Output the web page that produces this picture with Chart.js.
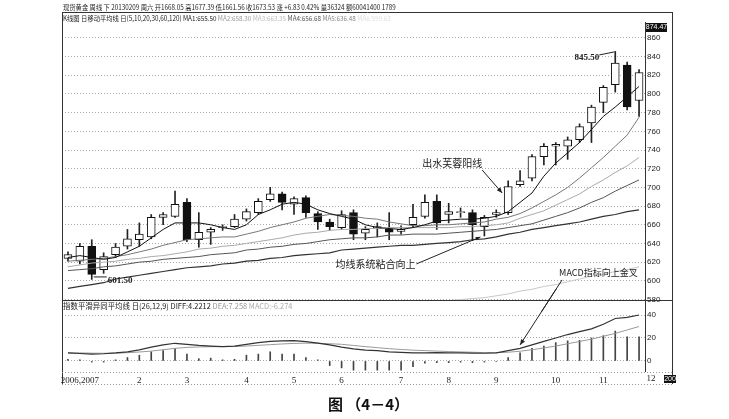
<!DOCTYPE html>
<html>
<head>
<meta charset="utf-8">
<script src="https://cdn.jsdelivr.net/npm/chart.js@4.4.1/dist/chart.umd.min.js"></script>
<style>
  body { margin: 0; background: #fff; }
  #wrap { position: relative; width: 729px; height: 419px; overflow: hidden; background: #fff; }
  #priceWrap { position: absolute; left: 0; top: 0; }
  #macdWrap { position: absolute; left: 0; top: 288px; }
  .hd { position: absolute; white-space: nowrap; font-family: "Noto Sans CJK SC", sans-serif; font-size: 7px; color: #222; line-height: 1; z-index: 3; transform-origin: 0 0; transform: scaleX(0.9); }
  .hd.m { font-size: 8px; transform: scaleX(0.93); }
  .caption { position: absolute; left: 4px; width: 729px; top: 393px; text-align: center; font: bold 15px "Noto Sans CJK SC", sans-serif; color: #111; z-index: 3; }
</style>
</head>
<body>
<div id="wrap">
  <div id="priceWrap"><canvas id="priceChart" width="729" height="312"></canvas></div>
  <div id="macdWrap"><canvas id="macdChart" width="729" height="131"></canvas></div>
  <div class="hd" style="left:63px;top:4px">现货黄金 周线 下 20130209 周六 开1668.05 高1677.39 低1661.56 收1673.53 涨 +6.83 0.42% 量36324 额60041400 1789</div>
  <div class="hd" style="left:63px;top:15px">K线图 日移动平均线 日(5,10,20,30,60,120) MA1:655.50 <span style="color:#999">MA2:658.30</span> <span style="color:#bbb">MA3:663.35</span> <span style="color:#555">MA4:656.68</span> <span style="color:#888">MA5:636.48</span> <span style="color:#ddd">MA6:599.63</span></div>
  <div class="hd m" style="left:63px;top:302px">指数平滑异同平均线 日(26,12,9) DIFF:4.2212 <span style="color:#999">DEA:7.258</span> <span style="color:#aaa">MACD:-6.274</span></div>
  <div class="caption">图 （4－4）</div>
</div>
<script>
// weekly candles, late 2006 - end of 2007
const dateLabels = ['', '2006,2007', '', '', '', '', '2', '', '', '', '3', '', '', '', '', '4', '', '', '', '5',
  '', '', '', '6', '', '', '', '', '7', '', '', '', '8', '', '', '', '9', '', '', '', '', '10', '', '', '', '11', '', '', ''];
const lastLabel = '12';

const opens  = [624, 621, 637, 612, 628, 637, 644, 647, 668, 669, 684, 644, 652, 657, 658, 666, 673, 687, 693, 682,
  689, 672, 663, 657, 673, 651, 656, 655, 653, 660, 669, 685, 671, 673, 673, 658, 671, 673, 703, 710,
  733, 744, 744, 751, 769, 791, 810, 831, 793];
const highs  = [631, 640, 644, 630, 640, 655, 662, 671, 673, 696, 688, 673, 657, 660, 671, 677, 688, 700, 695, 690,
  691, 674, 666, 675, 676, 658, 662, 673, 659, 682, 692, 692, 683, 678, 676, 670, 676, 707, 718, 735,
  747, 748, 754, 768, 788, 809, 845.5, 834, 826];
const lows   = [621, 618, 601.5, 608, 625, 634, 637, 645, 660, 668, 642, 636, 639, 654, 657, 664, 671, 685, 676, 671,
  668, 655, 654, 655, 644, 644, 647, 644, 650, 658, 667, 655, 662, 668, 643, 648, 668, 671, 701, 707,
  724, 724, 730, 748, 748, 780, 802, 783, 776];
const closes = [628, 637, 607, 626, 636, 645, 650, 668, 671, 682, 644, 652, 655, 658, 666, 674, 685, 693, 684, 688,
  673, 663, 658, 671, 650, 655, 658, 652, 655, 668, 684, 662, 674, 674, 660, 668, 673, 701, 707, 733,
  744, 746, 751, 765, 786, 807, 833, 786, 823];

const ma5   = [625, 627, 625, 623, 625, 631, 637, 646, 655, 662, 662, 662, 660, 657, 655, 660, 671, 676, 682, 684,
  682, 676, 672, 669, 666, 660, 657, 656, 655, 657, 660, 664, 665, 666, 666, 667, 669, 674, 684, 694,
  712, 726, 737, 748, 762, 776, 786, 797, 808];
const ma10  = [621, 622, 623, 624, 626, 628, 631, 634, 638, 641, 644, 645, 646, 647, 647, 650, 653, 657, 660, 663,
  667, 669, 671, 670, 669, 667, 666, 663, 661, 659, 659, 660, 660, 661, 662, 663, 666, 668, 672, 678,
  685, 692, 700, 710, 721, 732, 744, 756, 775];
const ma20  = [615, 617, 619, 620, 621, 623, 624, 626, 627, 629, 631, 634, 635, 637, 638, 640, 642, 644, 646, 649,
  651, 652, 654, 655, 655, 656, 656, 657, 657, 657, 657, 657, 657, 658, 658, 659, 660, 662, 667, 671,
  675, 681, 687, 693, 701, 708, 716, 723, 732];
const ma30  = [611, 612, 613, 615, 616, 618, 620, 621, 623, 624, 625, 626, 628, 629, 630, 633, 634, 636, 637, 639,
  640, 642, 644, 645, 646, 646, 647, 649, 649, 650, 650, 650, 651, 652, 653, 654, 655, 657, 659, 661,
  665, 669, 673, 678, 684, 689, 696, 702, 708];
const ma60  = [592, 594, 596, 598, 602, 604, 606, 608, 610, 612, 614, 615, 616, 618, 619, 621, 622, 624, 625, 627,
  628, 629, 630, 633, 634, 635, 636, 637, 638, 638, 639, 640, 641, 642, 644, 645, 647, 650, 652, 655,
  657, 659, 661, 663, 666, 669, 671, 674, 676];
const ma120 = [null, null, null, null, null, null, null, null, null, null, null, null, null, null, null, null, null, null, null, null,
  null, null, null, null, null, null, null, null, 572, 574, 576, 577, 579, 580, 581, 582, 584, 586, 589, 591,
  594, 596, 599, 602, 605, 607, 610, 612, 615];

const diffLine = [7, 6.5, 6, 6.3, 7, 8, 9.6, 12, 14, 15.4, 14.5, 13.5, 13, 12.5, 13, 14.5, 16, 17, 17.5, 17.7,
  16.8, 15.5, 14, 12, 10.5, 9.5, 9, 8, 7.5, 7, 7, 7.2, 7, 7, 6.8, 6.7, 7, 9, 11, 14,
  17, 20, 23, 25.5, 28, 32, 37, 38, 40];
const deaLine = [7, 7, 6.8, 6.7, 6.8, 7.2, 7.8, 8.6, 9.8, 11, 11.8, 12.2, 12.4, 12.5, 12.6, 13, 13.6, 14.2, 14.8, 15.3,
  15.5, 15.4, 15, 14.5, 13.5, 12.5, 11.6, 10.7, 10, 9.4, 9, 8.6, 8.2, 7.9, 7.6, 7.3, 7.2, 7.6, 8.5, 9.8,
  11.3, 13, 15, 17, 19, 21.5, 24, 27, 30];
const macdBars = [1.5, 1, -1, -1, 1, 3, 5, 8, 9, 10.7, 6, 2, 2.5, 1, 1.5, 5, 6, 8, 6, 6,
  3, 1, -4, -6, -8, -8, -8, -8, -8, -5, -2, -1.5, -1.5, -1, -1.5, -1, -0.5, 3, 7, 11,
  13, 16, 17.5, 18, 20, 22, 26, 21, 21];

const priceTicks = [580, 600, 620, 640, 660, 680, 700, 720, 740, 760, 780, 800, 820, 840, 860];
const macdTicks = [0, 20, 40];

const MACD_TOP = 288;

function arrowHead(ctx, fx, fy, tx, ty, size) {
  const ang = Math.atan2(ty - fy, tx - fx);
  ctx.beginPath();
  ctx.moveTo(tx, ty);
  ctx.lineTo(tx - size * Math.cos(ang - 0.4), ty - size * Math.sin(ang - 0.4));
  ctx.lineTo(tx - size * Math.cos(ang + 0.4), ty - size * Math.sin(ang + 0.4));
  ctx.closePath();
  ctx.fill();
}

function macdArrow(m) {
  const tip = { x: m.scales.x.getPixelForValue(38), y: MACD_TOP + m.scales.y.getPixelForValue(14) };
  return { tip, tail: { x: tip.x + 42, y: tip.y - 65 } };
}

const macdPanel = {
  id: 'macdPanel',
  afterDraw(chart) {
    const { ctx, chartArea: a, scales: { x, y } } = chart;
    ctx.save();
    ctx.strokeStyle = '#333';
    ctx.lineWidth = 1;
    ctx.beginPath();
    ctx.moveTo(62.5, 0); ctx.lineTo(62.5, 96);
    ctx.moveTo(Math.round(a.right) + 0.5, 0); ctx.lineTo(Math.round(a.right) + 0.5, a.bottom);
    ctx.moveTo(672.5, 0); ctx.lineTo(672.5, 96);
    ctx.stroke();
    ctx.strokeStyle = '#999';
    ctx.setLineDash([1, 2]);
    ctx.beginPath();
    ctx.moveTo(62, Math.round(a.bottom) + 0.5); ctx.lineTo(672, Math.round(a.bottom) + 0.5);
    ctx.moveTo(62, 96.5); ctx.lineTo(672, 96.5);
    ctx.stroke();
    ctx.setLineDash([]);

    // last month label past the plot edge
    ctx.fillStyle = '#222';
    ctx.font = '9px "Liberation Serif"';
    ctx.textAlign = 'center';
    ctx.textBaseline = 'middle';
    ctx.fillText(lastLabel, x.getPixelForValue(49), a.bottom + 7);

    // "200" box
    ctx.fillStyle = '#111';
    ctx.fillRect(664, 87, 12, 8);
    ctx.fillStyle = '#fff';
    ctx.font = '7px "Liberation Sans"';
    ctx.fillText('200', 670, 91.5);

    // arrow from the note into the golden cross
    const { tip, tail } = macdArrow(chart);
    ctx.strokeStyle = '#222';
    ctx.fillStyle = '#222';
    ctx.beginPath();
    ctx.moveTo(tail.x, tail.y - MACD_TOP);
    ctx.lineTo(tip.x, tip.y - MACD_TOP);
    ctx.stroke();
    arrowHead(ctx, tail.x, tail.y - MACD_TOP, tip.x, tip.y - MACD_TOP, 6);
    ctx.restore();
  }
};

const macdChart = new Chart(document.getElementById('macdChart'), {
  type: 'bar',
  data: {
    labels: dateLabels,
    datasets: [
      { type: 'line', data: diffLine, borderColor: '#333', borderWidth: 1.2, pointRadius: 0, order: 1 },
      { type: 'line', data: deaLine, borderColor: '#999', borderWidth: 1, pointRadius: 0, order: 1 },
      { data: macdBars, backgroundColor: '#444', barThickness: 1, grouped: false, order: 2 }
    ]
  },
  options: {
    responsive: false,
    animation: false,
    events: [],
    layout: { padding: { left: 62, right: 57, top: 13, bottom: 31 } },
    plugins: { legend: { display: false }, tooltip: { enabled: false } },
    scales: {
      x: {
        grid: { display: false, drawTicks: false },
        border: { display: false },
        ticks: { autoSkip: false, maxRotation: 0, padding: 3, color: '#222', font: { family: 'Liberation Serif', size: 9 } },
        afterFit: s => { s.height = 16; }
      },
      y: {
        position: 'right',
        min: -9.6,
        max: 52.2,
        afterBuildTicks: s => { s.ticks = macdTicks.map(v => ({ value: v })); },
        grid: { color: '#aaa', drawTicks: false },
        border: { display: false, dash: [1, 2] },
        ticks: { padding: 2, color: '#222', font: { family: 'Liberation Sans', size: 8 } },
        afterFit: s => { s.width = 27; }
      }
    }
  },
  plugins: [macdPanel]
});

const pricePanel = {
  id: 'pricePanel',
  afterDraw(chart) {
    const { ctx, chartArea: a, scales: { x, y } } = chart;
    ctx.save();
    ctx.strokeStyle = '#333';
    ctx.lineWidth = 1;
    ctx.beginPath();
    ctx.moveTo(62, 12.5); ctx.lineTo(673, 12.5);
    ctx.moveTo(62.5, 12); ctx.lineTo(62.5, 312);
    ctx.moveTo(Math.round(a.right) + 0.5, a.top); ctx.lineTo(Math.round(a.right) + 0.5, a.bottom);
    ctx.moveTo(672.5, 12); ctx.lineTo(672.5, 312);
    ctx.moveTo(62, 300.5); ctx.lineTo(673, 300.5);
    ctx.stroke();

    // last price tag
    ctx.fillStyle = '#111';
    ctx.fillRect(a.right + 1, 23, 21, 9);
    ctx.fillStyle = '#fff';
    ctx.font = '7px "Liberation Sans"';
    ctx.textAlign = 'center';
    ctx.textBaseline = 'middle';
    ctx.fillText('874.47', a.right + 11.5, 27.5);

    ctx.fillStyle = '#222';
    ctx.strokeStyle = '#222';

    // high label
    let px = x.getPixelForValue(46), py = y.getPixelForValue(845.5);
    ctx.beginPath(); ctx.moveTo(px - 16, py + 3.5); ctx.lineTo(px - 1, py + 0.5); ctx.stroke();
    ctx.font = 'bold 9px "Liberation Serif"';
    ctx.textAlign = 'right';
    ctx.fillText('845.50', px - 16, py + 6);

    // low label
    px = x.getPixelForValue(2); py = y.getPixelForValue(601.5);
    ctx.beginPath(); ctx.moveTo(px + 2, py - 2.5); ctx.lineTo(px + 15, py - 2.5); ctx.stroke();
    ctx.textAlign = 'left';
    ctx.fillText('601.50', px + 16, py + 1);

    ctx.font = '10px "Noto Sans CJK SC"';

    // breakout candle note
    let tip = { x: x.getPixelForValue(37) - 6, y: y.getPixelForValue(694) };
    let tail = { x: tip.x - 20, y: tip.y - 23 };
    ctx.beginPath(); ctx.moveTo(tail.x, tail.y); ctx.lineTo(tip.x, tip.y); ctx.stroke();
    arrowHead(ctx, tail.x, tail.y, tip.x, tip.y, 6);
    ctx.textAlign = 'right';
    ctx.fillText('出水芙蓉阳线', tail.x, tail.y - 7);

    // moving averages converge note
    tip = { x: x.getPixelForValue(35) - 4, y: y.getPixelForValue(647) };
    tail = { x: tip.x - 64, y: tip.y + 27 };
    ctx.beginPath(); ctx.moveTo(tail.x, tail.y); ctx.lineTo(tip.x, tip.y); ctx.stroke();
    arrowHead(ctx, tail.x, tail.y, tip.x, tip.y, 5);
    ctx.fillText('均线系统粘合向上', tail.x - 1, tail.y);

    // MACD note
    const mm = macdArrow(macdChart);
    ctx.beginPath(); ctx.moveTo(mm.tail.x, mm.tail.y); ctx.lineTo(mm.tip.x, mm.tip.y); ctx.stroke();
    ctx.textAlign = 'left';
    ctx.font = '9px "Noto Sans CJK SC"';
    ctx.fillText('MACD指标向上金叉', mm.tail.x - 3, mm.tail.y - 7);
    ctx.restore();
  }
};

new Chart(document.getElementById('priceChart'), {
  type: 'bar',
  data: {
    labels: dateLabels,
    datasets: [
      { type: 'line', data: ma5, borderColor: '#111', borderWidth: 1, pointRadius: 0, order: 1 },
      { type: 'line', data: ma10, borderColor: '#777', borderWidth: 1, pointRadius: 0, order: 1 },
      { type: 'line', data: ma20, borderColor: '#aaa', borderWidth: 1, pointRadius: 0, order: 1 },
      { type: 'line', data: ma30, borderColor: '#555', borderWidth: 1, pointRadius: 0, order: 1 },
      { type: 'line', data: ma60, borderColor: '#333', borderWidth: 1.2, pointRadius: 0, order: 1 },
      { type: 'line', data: ma120, borderColor: '#c8c8c8', borderWidth: 1, pointRadius: 0, order: 1 },
      {
        data: opens.map((o, i) => [o, closes[i]]),
        backgroundColor: opens.map((o, i) => closes[i] >= o ? '#fff' : '#111'),
        borderColor: '#111', borderWidth: 1, borderSkipped: false,
        barThickness: 8, grouped: false, order: 2
      },
      {
        data: lows.map((l, i) => [l, highs[i]]),
        backgroundColor: '#222', barThickness: 1, grouped: false, order: 3
      }
    ]
  },
  options: {
    responsive: false,
    animation: false,
    events: [],
    layout: { padding: { left: 62, right: 57, top: 22, bottom: 12 } },
    plugins: { legend: { display: false }, tooltip: { enabled: false } },
    scales: {
      x: { display: false },
      y: {
        position: 'right',
        min: 579.5,
        max: 877,
        afterBuildTicks: s => { s.ticks = priceTicks.map(v => ({ value: v })); },
        grid: { color: '#aaa', drawTicks: false },
        border: { display: false, dash: [1, 2] },
        ticks: { padding: 2, color: '#222', font: { family: 'Liberation Sans', size: 8 } },
        afterFit: s => { s.width = 27; }
      }
    }
  },
  plugins: [pricePanel]
});
</script>
</body>
</html>
